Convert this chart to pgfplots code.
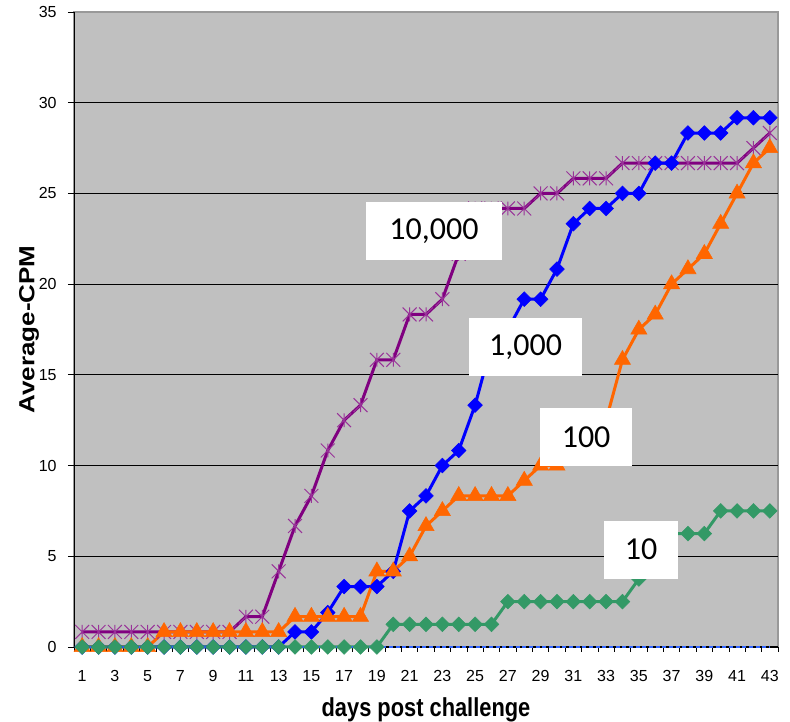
\documentclass[border=0pt]{standalone}
\usepackage{fontspec}
\setmainfont{Liberation Sans}
\newfontfamily\boxfont{Carlito}
\newfontfamily\axfont[FakeStretch=0.84]{Liberation Sans}
\usepackage{graphicx}
\usepackage{pgfplots}
\pgfplotsset{compat=1.18}
\usepackage{pgfplotstable}

\definecolor{bg}{HTML}{C0C0C0}
\definecolor{cpurple}{HTML}{800080}
\definecolor{cstar}{HTML}{993399}
\definecolor{cblue}{HTML}{0000FF}
\definecolor{corange}{HTML}{FF6600}
\definecolor{cgreen}{HTML}{339966}
\definecolor{cdash}{HTML}{3366FF}

\pgfdeclareplotmark{xstar}{%
  \pgfpathmoveto{\pgfqpoint{-\pgfplotmarksize}{-\pgfplotmarksize}}%
  \pgfpathlineto{\pgfqpoint{\pgfplotmarksize}{\pgfplotmarksize}}%
  \pgfpathmoveto{\pgfqpoint{-\pgfplotmarksize}{\pgfplotmarksize}}%
  \pgfpathlineto{\pgfqpoint{\pgfplotmarksize}{-\pgfplotmarksize}}%
  \pgfpathmoveto{\pgfqpoint{0pt}{-\pgfplotmarksize}}%
  \pgfpathlineto{\pgfqpoint{0pt}{\pgfplotmarksize}}%
  \pgfusepathqstroke}

% 10,000
\pgfplotstableread{
x y
1 0.83
2 0.83
3 0.83
4 0.83
5 0.83
6 0.83
7 0.83
8 0.83
9 0.83
10 0.83
11 1.67
12 1.67
13 4.17
14 6.67
15 8.33
16 10.83
17 12.5
18 13.33
19 15.83
20 15.83
21 18.33
22 18.33
23 19.17
24 21.67
25 24.17
26 24.17
27 24.17
28 24.17
29 25
30 25
31 25.83
32 25.83
33 25.83
34 26.67
35 26.67
36 26.67
37 26.67
38 26.67
39 26.67
40 26.67
41 26.67
42 27.5
43 28.33
}\tenk

% 1,000
\pgfplotstableread{
x y
1 0
2 0
3 0
4 0
5 0
6 0
7 0
8 0
9 0
10 0
11 0
12 0
13 0
14 0.83
15 0.83
16 1.9
17 3.33
18 3.33
19 3.33
20 4.17
21 7.5
22 8.33
23 10
24 10.83
25 13.33
26 16.67
27 17.5
28 19.17
29 19.17
30 20.83
31 23.33
32 24.17
33 24.17
34 25
35 25
36 26.67
37 26.67
38 28.33
39 28.33
40 28.33
41 29.17
42 29.17
43 29.17
}\onek

% 100
\pgfplotstableread{
x y
1 0
2 0
3 0
4 0
5 0
6 0.83
7 0.83
8 0.83
9 0.83
10 0.83
11 0.83
12 0.83
13 0.83
14 1.67
15 1.67
16 1.67
17 1.67
18 1.67
19 4.17
20 4.17
21 5
22 6.67
23 7.5
24 8.33
25 8.33
26 8.33
27 8.33
28 9.17
29 10
30 10
31 10.83
32 11.67
33 12.5
34 15.83
35 17.5
36 18.33
37 20
38 20.83
39 21.67
40 23.33
41 25
42 26.67
43 27.5
}\hund

% 10
\pgfplotstableread{
x y
1 0
2 0
3 0
4 0
5 0
6 0
7 0
8 0
9 0
10 0
11 0
12 0
13 0
14 0
15 0
16 0
17 0
18 0
19 0
20 1.25
21 1.25
22 1.25
23 1.25
24 1.25
25 1.25
26 1.25
27 2.5
28 2.5
29 2.5
30 2.5
31 2.5
32 2.5
33 2.5
34 2.5
35 3.75
36 5
37 6.25
38 6.25
39 6.25
40 7.5
41 7.5
42 7.5
43 7.5
}\ten

% 0
\pgfplotstableread{
x y
1 0
43 0
}\zero

\begin{document}
\begin{tikzpicture}
\begin{axis}[
  width=528pt, height=476.25pt, scale only axis,
  xmin=0.5, xmax=43.5, ymin=0, ymax=35,
  clip=false,
  axis lines=left,
  axis line style={-, black, line width=0.75pt},
  axis background/.style={fill=bg, draw=black!40, line width=1.1pt},
  tick align=outside,
  major tick length=4.5pt, minor tick length=3.75pt,
  xtick={1,3,...,43},
  minor xtick={0.5,1.5,...,43.5},
  major x tick style={draw=none},
  minor x tick style={black, line width=0.5pt},
  ytick={0,5,...,30},
  extra y ticks={35},
  extra y tick style={grid=none},
  ytick style={black, line width=0.6pt},
  ymajorgrids,
  grid style={black, line width=0.6pt},
  tick label style={font=\fontsize{12}{14}\selectfont},
  /pgf/number format/assume math mode=true,
  xticklabel style={yshift=-9.5pt},
  yticklabel style={xshift=-5pt},
  xlabel={\axfont\bfseries\fontsize{19.5}{22}\selectfont days post challenge},
  xlabel style={at={(axis description cs:0.5,-0.099)}, anchor=center},
  ylabel={\scalebox{1}[0.84]{\bfseries\fontsize{19.5}{22}\selectfont Average-CPM}},
  ylabel style={at={(axis description cs:-0.0639,0.5)}, anchor=center},
]
\coordinate (sw) at (rel axis cs:0,0);
\coordinate (ne) at (rel axis cs:1,1);
\coordinate (l1) at (axis cs:22.49,22.93);
\coordinate (l2) at (axis cs:28.08,16.54);
\coordinate (l3) at (axis cs:31.78,11.58);
\coordinate (l4) at (axis cs:35.14,5.37);

\addplot[cpurple, line width=2.25pt, mark=xstar, mark size=5.2pt,
  mark options={cstar, line width=0.75pt, solid}] table[x=x,y=y] {\tenk};
\addplot[cblue, line width=2.25pt, mark=square*, mark size=3.9pt,
  mark options={rotate=45, solid, line width=0.4pt}] table[x=x,y=y] {\onek};
\addplot[corange, line width=2.25pt, mark=triangle*, mark size=7pt,
  mark options={solid, line width=0.4pt}] table[x=x,y=y] {\hund};
\addplot[cgreen, line width=2.25pt, mark=none] table[x=x,y=y] {\ten};
\addplot[cdash, line width=1.5pt, dash pattern=on 3pt off 2pt, mark=none] table[x=x,y=y] {\zero};
\addplot[cgreen, only marks, mark=square*, mark size=3.9pt,
  mark options={rotate=45, solid, line width=0.4pt}] table[x=x,y=y] {\ten};
\end{axis}
\tikzset{lbl/.style={fill=white, inner sep=0pt, minimum height=43.5pt, font=\boxfont\fontsize{24}{28}\selectfont}}
\node[lbl, minimum width=102pt] at (l1) {10,000};
\node[lbl, minimum width=84.75pt] at (l2) {1,000};
\node[lbl, minimum width=69pt] at (l3) {100};
\node[lbl, minimum width=55.5pt] at (l4) {10};
\pgfresetboundingbox
\path[use as bounding box] ([xshift=-55.5pt,yshift=-56.25pt]sw) rectangle ([xshift=9pt,yshift=9pt]ne);
\end{tikzpicture}
\end{document}
